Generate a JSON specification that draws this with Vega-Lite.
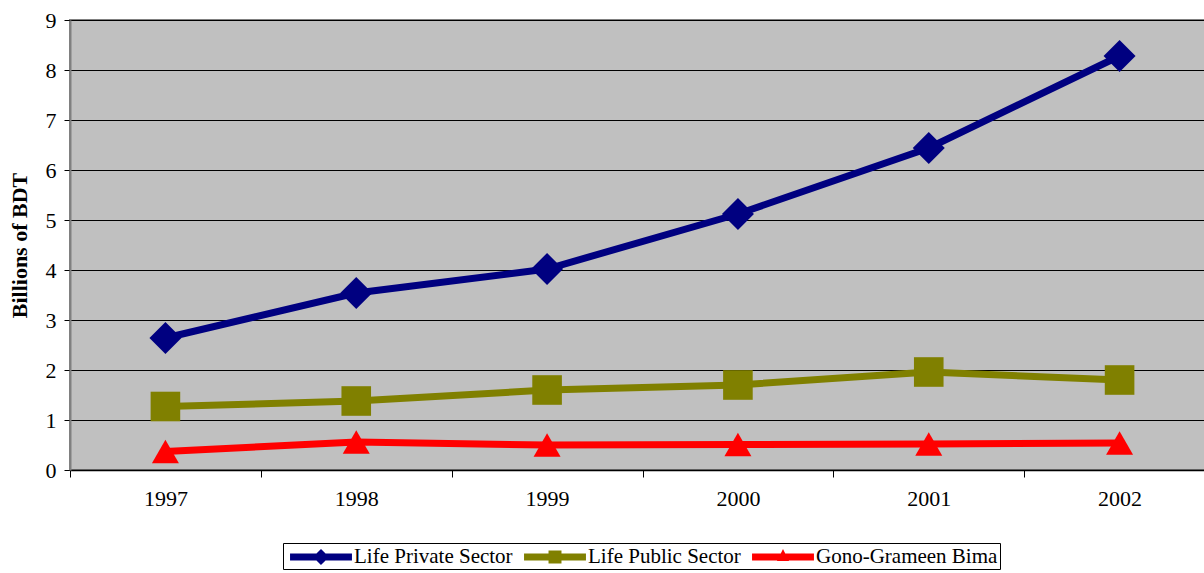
{
  "$schema": "https://vega.github.io/schema/vega-lite/v6.json",
  "width": 1145,
  "height": 450,
  "autosize": {"type": "none"},
  "padding": {"left": 70, "top": 20, "right": 0, "bottom": 103},
  "background": "white",
  "config": {
    "view": {"fill": "#C0C0C0", "stroke": "#808080", "strokeWidth": 2},
    "font": "Liberation Serif"
  },
  "data": {
    "values": [
      {"year": "1997", "series": "Life Private Sector", "value": 2.64},
      {"year": "1998", "series": "Life Private Sector", "value": 3.54},
      {"year": "1999", "series": "Life Private Sector", "value": 4.02},
      {"year": "2000", "series": "Life Private Sector", "value": 5.12},
      {"year": "2001", "series": "Life Private Sector", "value": 6.44},
      {"year": "2002", "series": "Life Private Sector", "value": 8.28},
      {"year": "1997", "series": "Life Public Sector", "value": 1.27},
      {"year": "1998", "series": "Life Public Sector", "value": 1.38},
      {"year": "1999", "series": "Life Public Sector", "value": 1.6},
      {"year": "2000", "series": "Life Public Sector", "value": 1.7},
      {"year": "2001", "series": "Life Public Sector", "value": 1.96},
      {"year": "2002", "series": "Life Public Sector", "value": 1.8},
      {"year": "1997", "series": "Gono-Grameen Bima", "value": 0.37},
      {"year": "1998", "series": "Gono-Grameen Bima", "value": 0.56},
      {"year": "1999", "series": "Gono-Grameen Bima", "value": 0.5},
      {"year": "2000", "series": "Gono-Grameen Bima", "value": 0.51},
      {"year": "2001", "series": "Gono-Grameen Bima", "value": 0.52},
      {"year": "2002", "series": "Gono-Grameen Bima", "value": 0.54}
    ]
  },
  "encoding": {
    "x": {
      "field": "year",
      "type": "ordinal",
      "scale": {"type": "band", "paddingInner": 0, "paddingOuter": 0},
      "axis": {
        "title": null,
        "labelAngle": 0,
        "tickBand": "extent",
        "domainColor": "black",
        "domainWidth": 1.5,
        "tickColor": "black",
        "tickSize": 7,
        "labelPadding": 11,
        "labelFont": "Liberation Serif",
        "labelFontSize": 22,
        "labelColor": "black"
      }
    },
    "y": {
      "field": "value",
      "type": "quantitative",
      "scale": {"domain": [0, 9], "nice": false},
      "axis": {
        "title": "Billions of BDT",
        "titleFont": "Liberation Serif",
        "titleFontSize": 22,
        "titleFontWeight": "bold",
        "titleColor": "black",
        "titlePadding": 14,
        "values": [0, 1, 2, 3, 4, 5, 6, 7, 8, 9],
        "labelOverlap": false,
        "grid": true,
        "gridColor": "black",
        "gridWidth": 1,
        "gridOpacity": 1,
        "domainColor": "#808080",
        "domainWidth": 2,
        "tickColor": "black",
        "tickSize": 6,
        "labelPadding": 8,
        "labelFont": "Liberation Serif",
        "labelFontSize": 22,
        "labelColor": "black"
      }
    }
  },
  "resolve": {
    "scale": {"shape": "independent", "color": "independent"},
    "legend": {"shape": "independent", "color": "independent"}
  },
  "layer": [
    {
      "mark": {"type": "point", "filled": true, "opacity": 0},
      "encoding": {
        "color": {
          "field": "series",
          "type": "nominal",
          "scale": {
            "domain": ["Life Private Sector", "Life Public Sector", "Gono-Grameen Bima"],
            "range": ["#000080", "#808000", "#FF0000"]
          },
          "legend": {
            "title": null,
            "orient": "none",
            "legendX": 213,
            "legendY": 523,
            "direction": "horizontal",
            "strokeColor": "black",
            "fillColor": "white",
            "padding": 2,
            "labelFont": "Liberation Serif",
            "labelFontSize": 21,
            "labelColor": "black",
            "labelLimit": 400,
            "labelOffset": 45,
            "columnPadding": 6,
            "symbolSize": 576,
            "symbolStrokeWidth": 0,
            "symbolOpacity": 1
          }
        },
        "shape": {
          "field": "series",
          "type": "nominal",
          "scale": {
            "domain": ["Life Private Sector", "Life Public Sector", "Gono-Grameen Bima"],
            "range": [
              "M-0.58,-0.29H4.58V0.29H-0.58Z M2,-0.67L2.67,0L2,0.67L1.33,0Z",
              "M-0.58,-0.29H4.58V0.29H-0.58Z M1.46,-0.54H2.54V0.54H1.46Z",
              "M-0.58,-0.29H4.58V0.29H-0.58Z M2,-0.67L2.5,0.33H1.5Z"
            ]
          },
          "legend": {
            "title": null,
            "orient": "none",
            "legendX": 213,
            "legendY": 523,
            "direction": "horizontal",
            "strokeColor": "black",
            "fillColor": "white",
            "padding": 2,
            "labelFont": "Liberation Serif",
            "labelFontSize": 21,
            "labelColor": "black",
            "labelLimit": 400,
            "labelOffset": 45,
            "columnPadding": 6,
            "symbolSize": 576,
            "symbolStrokeWidth": 0,
            "symbolOpacity": 1
          }
        }
      }
    },
    {
      "mark": {"type": "line", "strokeWidth": 7, "strokeCap": "butt"},
      "encoding": {
        "color": {
          "field": "series",
          "type": "nominal",
          "scale": {
            "domain": ["Life Private Sector", "Life Public Sector", "Gono-Grameen Bima"],
            "range": ["#000080", "#808000", "#FF0000"]
          },
          "legend": null
        }
      }
    },
    {
      "mark": {"type": "point", "filled": true, "opacity": 1},
      "encoding": {
        "color": {
          "field": "series",
          "type": "nominal",
          "scale": {
            "domain": ["Life Private Sector", "Life Public Sector", "Gono-Grameen Bima"],
            "range": ["#000080", "#808000", "#FF0000"]
          },
          "legend": null
        },
        "shape": {
          "field": "series",
          "type": "nominal",
          "scale": {
            "domain": ["Life Private Sector", "Life Public Sector", "Gono-Grameen Bima"],
            "range": ["diamond", "square", "triangle-up"]
          },
          "legend": null
        },
        "size": {
          "field": "series",
          "type": "nominal",
          "scale": {
            "domain": ["Life Private Sector", "Life Public Sector", "Gono-Grameen Bima"],
            "range": [1024, 729, 760]
          },
          "legend": null
        }
      }
    }
  ]
}
